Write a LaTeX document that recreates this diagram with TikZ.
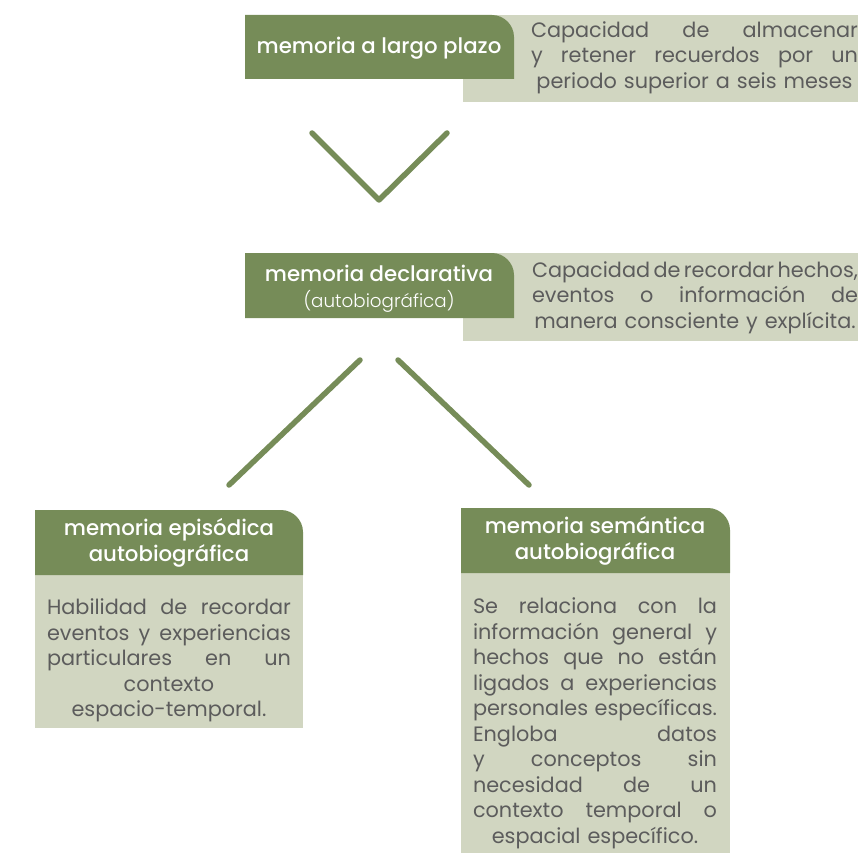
\documentclass[tikz,border=0pt]{standalone}
\usepackage{fontspec}
\setmainfont{Poppins}
\newfontfamily\titlefont{Poppins Medium}
\newfontfamily\lightfont{Poppins Light}
\definecolor{mgreen}{HTML}{768C58}
\definecolor{mgray}{HTML}{D1D6C1}
\definecolor{mtext}{HTML}{5C5C5C}
\newcommand{\jline}[1]{\makebox[\linewidth][s]{\spaceskip=\fontdimen2\font plus 1fil minus 0.5\fontdimen2\font\relax #1}}
\tikzset{
  greenfill/.style={fill=mgreen},
  grayfill/.style={fill=mgray},
  titletext/.style={text=white, align=center, inner sep=0pt, font=\titlefont\fontsize{21.3}{26}\selectfont},
  desctext/.style={text=mtext, align=center, inner sep=0pt, font=\fontsize{20.8}{25.5}\selectfont},
  linkline/.style={draw=mgreen, line width=5.5pt, line cap=round, line join=round}
}
\begin{document}
\begin{tikzpicture}[x=1pt,y=-1pt]
\useasboundingbox (0,0) rectangle (862,853);
% box 1
\fill[grayfill] (463,15) rectangle (858,102);
\fill[greenfill] (245,79) -- (245,15) -- (492,15) .. controls (504,15) and (514,25) .. (514,37) -- (514,79) -- cycle;
\node[titletext] (t1) at (379,48) {memoria a largo plazo};
\node[desctext, text width=327pt] (d1) at (694.5,57.5) {\jline{Capacidad de almacenar}\\\jline{y retener recuerdos por un}\\periodo superior a seis meses};
% chevron
\coordinate (c1) at (312,133);
\coordinate (c2) at (379,200);
\coordinate (c3) at (447,133);
\draw[linkline] (c1) -- (c2) -- (c3);
% box 2
\fill[grayfill] (463,253) rectangle (858,341);
\fill[greenfill] (245,318) -- (245,253) -- (492,253) .. controls (504,253) and (514,263) .. (514,275) -- (514,318) -- cycle;
\node[titletext] (t2) at (379,289) {memoria declarativa\\{\lightfont\fontsize{18.3}{22}\selectfont (autobiográfica)}};
\node[desctext, text width=326pt] (d2) at (695,297.5) {\jline{Capacidad de recordar hechos,}\\\jline{eventos o información de}\\manera consciente y explícita.};
% branch lines
\coordinate (b1) at (360,360);
\coordinate (b2) at (229,485);
\coordinate (b3) at (398,360);
\coordinate (b4) at (529,485);
\draw[linkline] (b1) -- (b2);
\draw[linkline] (b3) -- (b4);
% box 3
\fill[grayfill] (35,575) rectangle (303,728);
\fill[greenfill] (35,575) -- (35,510) -- (281,510) .. controls (293,510) and (303,520) .. (303,532) -- (303,575) -- cycle;
\node[titletext] (t3) at (169,542.5) {memoria episódica\\autobiográfica};
\node[desctext, text width=244pt] (d3) at (169,660.5) {\jline{Habilidad de recordar}\\\jline{eventos y experiencias}\\\jline{particulares en un}\\contexto\\espacio-temporal.};
% box 4
\fill[grayfill] (461,573) rectangle (730,853);
\fill[greenfill] (461,573) -- (461,508) -- (708,508) .. controls (720,508) and (730,518) .. (730,530) -- (730,573) -- cycle;
\node[titletext] (t4) at (595,540.5) {memoria semántica\\autobiográfica};
\node[desctext, text width=244pt] (d4) at (595,723.5) {\jline{Se relaciona con la}\\\jline{información general y}\\\jline{hechos que no están}\\\jline{ligados a experiencias}\\\jline{personales específicas.}\\\jline{Engloba datos}\\\jline{y conceptos sin}\\\jline{necesidad de un}\\\jline{contexto temporal o}\\espacial específico.};
\end{tikzpicture}
\end{document}
